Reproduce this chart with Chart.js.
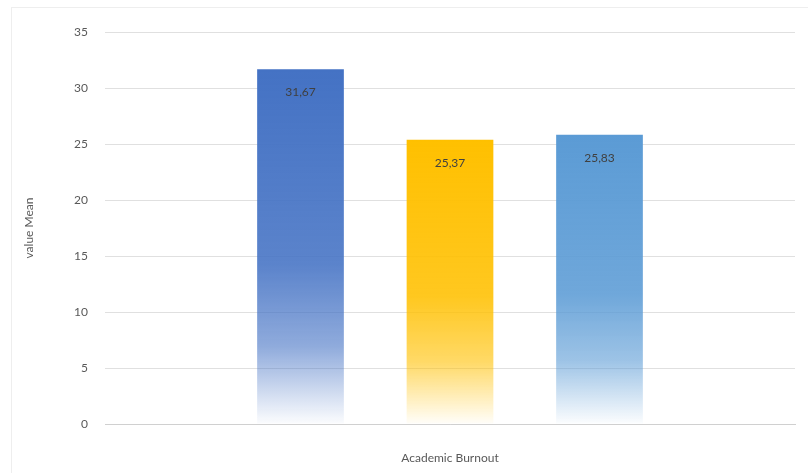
<!DOCTYPE html>
<html>
<head>
<meta charset="utf-8">
<script src="https://cdn.jsdelivr.net/npm/chart.js@4"></script>
<style>
  html, body { margin: 0; padding: 0; background: #fff; }
  #wrap { position: relative; width: 808px; height: 473px; }
  #frame { position: absolute; left: 11px; top: 7px; width: 800px; height: 470px; border: 1px solid #eeeeee; box-sizing: border-box; }
</style>
</head>
<body>
<div id="wrap">
  <div id="frame"></div>
  <canvas id="meanChart" width="808" height="473"></canvas>
</div>
<script>
// 数据
const categories = ['Academic Burnout'];
const seriesNames = ['Series 1', 'Series 2', 'Series 3'];
const seriesValues = [[31.67], [25.37], [25.83]];
const seriesColors = ['68,114,196', '255,192,0', '91,155,213'];
const yTicks = [0, 5, 10, 15, 20, 25, 30, 35];

// 渐变填充：顶部实色，底部淡出
function barGradient(rgb) {
    return function (context) {
        const chart = context.chart;
        const area = chart.chartArea;
        if (!area) return 'rgb(' + rgb + ')';
        const y = chart.scales.y;
        const top = y.getPixelForValue(context.raw);
        const base = y.getPixelForValue(0);
        const g = chart.ctx.createLinearGradient(0, top, 0, base);
        g.addColorStop(0, 'rgba(' + rgb + ',1)');
        g.addColorStop(0.55, 'rgba(' + rgb + ',0.88)');
        g.addColorStop(0.78, 'rgba(' + rgb + ',0.6)');
        g.addColorStop(1, 'rgba(' + rgb + ',0.02)');
        return g;
    };
}

// 数值标签（逗号小数）
const valueLabels = {
    id: 'valueLabels',
    afterDatasetsDraw(chart) {
        const ctx = chart.ctx;
        ctx.save();
        ctx.font = '12px Lato, "Open Sans", sans-serif';
        ctx.fillStyle = '#404040';
        ctx.textAlign = 'center';
        ctx.textBaseline = 'middle';
        chart.data.datasets.forEach((ds, i) => {
            chart.getDatasetMeta(i).data.forEach((bar, j) => {
                const txt = ds.data[j].toFixed(2).replace('.', ',');
                ctx.fillText(txt, bar.x, bar.y + 23);
            });
        });
        ctx.restore();
    }
};

const ctx = document.getElementById('meanChart').getContext('2d');
const meanChart = new Chart(ctx, {
    type: 'bar',
    data: {
        labels: categories,
        datasets: seriesValues.map((vals, i) => ({
            label: seriesNames[i],
            data: vals,
            backgroundColor: barGradient(seriesColors[i]),
            borderWidth: 0,
            barPercentage: 0.58,
            categoryPercentage: 0.65
        }))
    },
    options: {
        responsive: false,
        animation: false,
        layout: { padding: { left: 0, top: 32, right: 13, bottom: 0 } },
        plugins: {
            legend: { display: false },
            tooltip: { enabled: false }
        },
        scales: {
            x: {
                grid: { display: false },
                border: { display: true, color: '#d0d0d0', width: 1 },
                ticks: { color: '#595959', padding: 19, font: { family: 'Lato, "Open Sans", sans-serif', size: 12 } },
                afterFit(scale) { scale.height = 49; }
            },
            y: {
                min: 0,
                max: 35,
                afterBuildTicks(scale) { scale.ticks = yTicks.map(v => ({ value: v })); },
                grid: { color: '#e0e0e0', drawTicks: false },
                border: { display: false },
                ticks: { color: '#595959', padding: 17, font: { family: 'Lato, "Open Sans", sans-serif', size: 12 } },
                title: {
                    display: true,
                    text: 'value Mean',
                    color: '#595959',
                    padding: { top: 22, bottom: 0 },
                    font: { family: 'Lato, "Open Sans", sans-serif', size: 12 }
                },
                afterFit(scale) { scale.width = 105; }
            }
        }
    },
    plugins: [valueLabels]
});
</script>
</body>
</html>
